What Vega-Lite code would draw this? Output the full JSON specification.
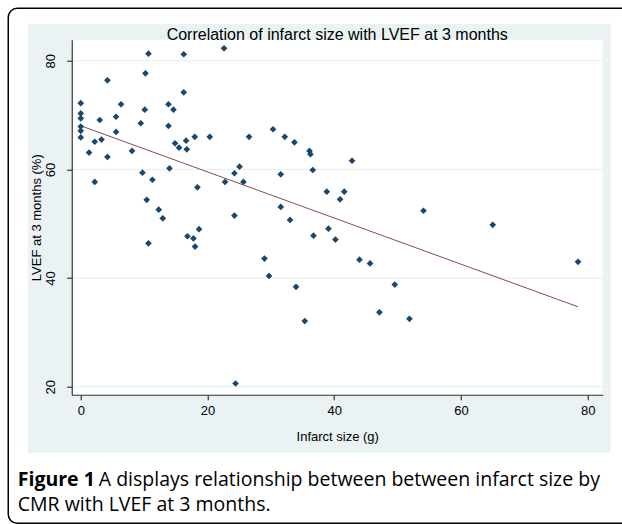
{
  "$schema": "https://vega.github.io/schema/vega-lite/v6.json",
  "background": "white",
  "padding": {"left": 6.75, "top": 6.75, "right": 0, "bottom": 0},
  "title": {
    "text": "Figure 1",
    "subtitle": ["\u200b\u00a0\u00a0\u00a0\u00a0\u00a0\u00a0\u00a0\u00a0\u00a0\u00a0\u00a0\u00a0\u00a0\u00a0\u00a0\u00a0A displays relationship between between infarct size by", "CMR with LVEF at 3 months."],
    "orient": "bottom",
    "anchor": "start",
    "dx": 10.25,
    "offset": -53.25,
    "font": "Open Sans",
    "fontSize": 19.5,
    "fontWeight": "bold",
    "color": "black",
    "subtitleFont": "Open Sans",
    "subtitleFontSize": 19.5,
    "subtitleFontWeight": "normal",
    "subtitleColor": "black",
    "subtitleLineHeight": 25,
    "subtitlePadding": -19.5
  },
  "datasets": {
    "points": [
      {"x": 0, "y": 72.2}, {"x": 0, "y": 70.3}, {"x": 0, "y": 69.4}, {"x": 0, "y": 67.9}, {"x": 0, "y": 67.1}, {"x": 0, "y": 65.9},
      {"x": 1.31, "y": 63.1}, {"x": 2.21, "y": 65.1}, {"x": 2.21, "y": 57.7}, {"x": 3.0, "y": 69.1}, {"x": 3.27, "y": 65.5},
      {"x": 4.21, "y": 76.4}, {"x": 4.21, "y": 62.3}, {"x": 5.57, "y": 69.7}, {"x": 5.57, "y": 66.9}, {"x": 6.36, "y": 72.0},
      {"x": 8.09, "y": 63.4}, {"x": 9.47, "y": 68.5}, {"x": 9.74, "y": 59.4}, {"x": 10.10, "y": 71.0}, {"x": 10.21, "y": 77.7},
      {"x": 10.41, "y": 54.4}, {"x": 10.68, "y": 81.3}, {"x": 11.31, "y": 58.1}, {"x": 12.31, "y": 52.6}, {"x": 13.84, "y": 72.0},
      {"x": 13.84, "y": 68.0}, {"x": 14.0, "y": 60.2}, {"x": 14.63, "y": 71.0}, {"x": 14.88, "y": 64.8}, {"x": 15.51, "y": 64.0},
      {"x": 16.25, "y": 81.2}, {"x": 16.25, "y": 74.2}, {"x": 16.62, "y": 65.3}, {"x": 16.73, "y": 63.7}, {"x": 17.99, "y": 66.0},
      {"x": 18.41, "y": 56.7}, {"x": 20.36, "y": 66.0}, {"x": 22.61, "y": 82.3}, {"x": 22.77, "y": 57.7}, {"x": 24.25, "y": 59.3},
      {"x": 25.06, "y": 60.5}, {"x": 25.67, "y": 57.7}, {"x": 26.56, "y": 66.0},
      {"x": 30.34, "y": 67.4}, {"x": 32.19, "y": 66.0}, {"x": 33.72, "y": 65.0}, {"x": 36.09, "y": 63.4}, {"x": 36.25, "y": 62.8},
      {"x": 42.81, "y": 61.6}, {"x": 31.56, "y": 59.1}, {"x": 36.61, "y": 59.9}, {"x": 38.82, "y": 55.9}, {"x": 41.58, "y": 55.9},
      {"x": 40.92, "y": 54.5}, {"x": 31.56, "y": 53.1},
      {"x": 12.94, "y": 51.0}, {"x": 10.68, "y": 46.4}, {"x": 18.67, "y": 49.0}, {"x": 16.84, "y": 47.7}, {"x": 17.78, "y": 47.3},
      {"x": 18.04, "y": 45.8}, {"x": 24.25, "y": 51.5}, {"x": 24.43, "y": 20.6},
      {"x": 33.03, "y": 50.7}, {"x": 36.72, "y": 47.8}, {"x": 39.09, "y": 49.1}, {"x": 40.19, "y": 47.1}, {"x": 28.99, "y": 43.6},
      {"x": 29.71, "y": 40.4}, {"x": 33.97, "y": 38.4}, {"x": 43.98, "y": 43.4}, {"x": 45.65, "y": 42.7}, {"x": 49.55, "y": 38.8},
      {"x": 47.13, "y": 33.7}, {"x": 35.35, "y": 32.1},
      {"x": 54.08, "y": 52.4}, {"x": 65.01, "y": 49.8}, {"x": 78.47, "y": 43.0}, {"x": 51.87, "y": 32.5}
    ],
    "fit": [{"x": 0, "y": 68.04}, {"x": 78.47, "y": 34.72}],
    "grid": [{"g": 20}, {"g": 40}, {"g": 60}, {"g": 80}],
    "panel": [{}]
  },
  "vconcat": [
    {
      "width": 531,
      "height": 355,
      "title": {
        "text": "Correlation of infarct size with LVEF at 3 months",
        "font": "Liberation Sans",
        "fontSize": 16,
        "fontWeight": "normal",
        "color": "black",
        "frame": "group",
        "anchor": "middle",
        "offset": -35.25
      },
      "layer": [
        {
          "data": {"name": "panel"},
          "mark": {"type": "rect", "filled": false, "color": "black", "strokeWidth": 1.5, "cornerRadius": 9},
          "encoding": {
            "x": {"datum": -11.44, "type": "quantitative", "title": "Infarct size (g)", "axis": {"zindex": 1, "values": [0, 20, 40, 60, 80]}, "scale": {"domain": [-1.42, 82.37], "nice": false, "zero": false}},
            "x2": {"datum": 88.36},
            "y": {"datum": 89.66, "type": "quantitative", "title": "LVEF at 3 months (%)", "axis": {"zindex": 1, "values": [20, 40, 60, 80]}, "scale": {"domain": [18.53, 83.87], "nice": false, "zero": false}},
            "y2": {"datum": -5.13}
          }
        },
        {
          "data": {"name": "panel"},
          "mark": {"type": "rect", "color": "#eaf2f3"},
          "encoding": {
            "x": {"datum": -8.36, "type": "quantitative", "title": "Infarct size (g)", "axis": {"zindex": 1, "values": [0, 20, 40, 60, 80]}, "scale": {"domain": [-1.42, 82.37], "nice": false, "zero": false}},
            "x2": {"datum": 83.63},
            "y": {"datum": 86.81, "type": "quantitative", "title": "LVEF at 3 months (%)", "axis": {"zindex": 1, "values": [20, 40, 60, 80]}, "scale": {"domain": [18.53, 83.87], "nice": false, "zero": false}},
            "y2": {"datum": 7.85}
          }
        },
        {
          "data": {"name": "panel"},
          "mark": {"type": "rect", "color": "white"},
          "encoding": {
            "x": {"datum": -1.42, "type": "quantitative", "title": "Infarct size (g)", "axis": {"zindex": 1, "values": [0, 20, 40, 60, 80]}, "scale": {"domain": [-1.42, 82.37], "nice": false, "zero": false}},
            "x2": {"datum": 82.37},
            "y": {"datum": 83.87, "type": "quantitative", "title": "LVEF at 3 months (%)", "axis": {"zindex": 1, "values": [20, 40, 60, 80]}, "scale": {"domain": [18.53, 83.87], "nice": false, "zero": false}},
            "y2": {"datum": 18.53}
          }
        },
        {
          "data": {"name": "grid"},
          "mark": {"type": "rule", "color": "#e4eef0", "strokeWidth": 1},
          "encoding": {
            "y": {"field": "g", "type": "quantitative", "title": "LVEF at 3 months (%)", "axis": {"zindex": 1, "values": [20, 40, 60, 80]}, "scale": {"domain": [18.53, 83.87], "nice": false, "zero": false}}
          }
        },
        {
          "data": {"name": "fit"},
          "mark": {"type": "line", "color": "#8c4a4e", "strokeWidth": 1},
          "encoding": {
            "x": {"field": "x", "type": "quantitative", "title": "Infarct size (g)", "axis": {"zindex": 1, "values": [0, 20, 40, 60, 80]}, "scale": {"domain": [-1.42, 82.37], "nice": false, "zero": false}},
            "y": {"field": "y", "type": "quantitative", "title": "LVEF at 3 months (%)", "axis": {"zindex": 1, "values": [20, 40, 60, 80]}, "scale": {"domain": [18.53, 83.87], "nice": false, "zero": false}}
          }
        },
        {
          "data": {"name": "points"},
          "mark": {"type": "point", "shape": "diamond", "filled": true, "color": "#1a476f", "size": 45, "opacity": 1},
          "encoding": {
            "x": {"field": "x", "type": "quantitative", "title": "Infarct size (g)", "axis": {"zindex": 1, "values": [0, 20, 40, 60, 80]}, "scale": {"domain": [-1.42, 82.37], "nice": false, "zero": false}},
            "y": {"field": "y", "type": "quantitative", "title": "LVEF at 3 months (%)", "axis": {"zindex": 1, "values": [20, 40, 60, 80]}, "scale": {"domain": [18.53, 83.87], "nice": false, "zero": false}}
          }
        }
      ]
    }
  ],
  "config": {
    "view": {"stroke": null},
    "axis": {
      "grid": false,
      "domainColor": "#333333",
      "domainWidth": 1.2,
      "tickColor": "#333333",
      "tickWidth": 1.2,
      "tickSize": 5,
      "labelFont": "Liberation Sans",
      "labelFontSize": 13,
      "labelColor": "black",
      "labelFlush": false,
      "titleFont": "Liberation Sans",
      "titleFontSize": 13,
      "titleFontWeight": "normal",
      "titleColor": "black"
    },
    "axisX": {"labelPadding": 5, "titlePadding": 13},
    "axisY": {"labelAngle": -90, "labelAlign": "center", "labelBaseline": "bottom", "labelPadding": 9, "titlePadding": 1}
  }
}
